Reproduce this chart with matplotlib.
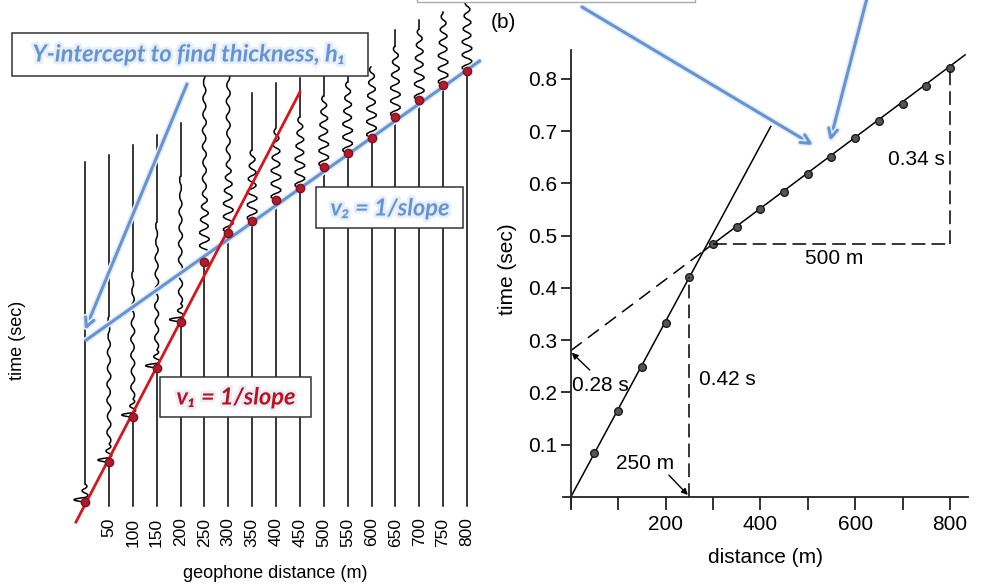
import numpy as np
import matplotlib
matplotlib.use('Agg')
from matplotlib import pyplot as plt
from matplotlib.path import Path
from matplotlib.patches import PathPatch, Rectangle, FancyArrowPatch
import matplotlib.patheffects as pe

plt.rcParams['font.family'] = ['Liberation Sans', 'DejaVu Sans']
NARROW = ['Liberation Sans Narrow', 'Liberation Sans', 'DejaVu Sans']

W, H = 993, 588

# (a) geophone record: distance (m), first-break pick (s), trace top (s)
geo_dist = [0, 50, 100, 150, 200, 250, 300, 350, 400, 450, 500, 550, 600, 650, 700, 750, 800]
geo_pick = [0.000, 0.075, 0.160, 0.253, 0.340, 0.453, 0.508, 0.530, 0.570, 0.592,
            0.632, 0.658, 0.687, 0.726, 0.758, 0.787, 0.813]
geo_top = [0.642, 0.655, 0.674, 0.692, 0.715, 0.730, 0.747, 0.772, 0.791, 0.800,
           0.804, 0.804, 0.804, 0.891, 0.909, 0.925, 0.960]
# fitted lines on the record: intercept (s), slope (s/m), x range (m)
v1_fit = (-0.005, 0.00173, -19, 450)
v2_fit = (0.304, 0.000639, 0, 829)

# (b) travel-time plot
direct_x = [50, 100, 150, 200, 250]
direct_t = [0.084, 0.165, 0.249, 0.333, 0.420]
refr_x = [300, 350, 400, 450, 500, 550, 600, 650, 700, 750, 800]
refr_t = [0.484, 0.517, 0.551, 0.584, 0.618, 0.651, 0.686, 0.720, 0.752, 0.787, 0.820]
t_cross_x, t_cross_t = 250, 0.42
t_intercept = 0.28
dx_refr, dt_refr = 500, 0.34

# wavelet shapes (pixel amplitudes of successive half cycles)
wave_px = [-5, 5, -5, 5, -5, 4, -4, 4, -3, 3, -2]
spike_px = [-11, 3, -3, 2]
coda_px = [2, -2, 2, -1.5, 2, -2, 1.5, -2, 2, -1.5, 1.5, -1.5, 1.5, -1, 1, -1]

blue = '#6594d2'
red = '#d8141c'

fig = plt.figure(figsize=(W / 100, H / 100), dpi=100)


def fig_rect(x0, y0, x1, y1):
    return [x0 / W, (H - y1) / H, (x1 - x0) / W, (y1 - y0) / H]


# ---- left panel: record section ----
LX0, LSX, LT0, LST = 85.0, 0.4775, 502.0, 530.0
axL = fig.add_axes(fig_rect(60, 0, 490, 512))
axL.set_xlim((60 - LX0) / LSX, (490 - LX0) / LSX)
axL.set_ylim((LT0 - 512) / LST, LT0 / LST)


def wiggle(ax, x0, t0, amps, half_px):
    verts = [(x0, t0)]
    codes = [Path.MOVETO]
    h = half_px / LST
    t = t0
    for a in amps:
        verts += [(x0 + 2 * a / LSX, t + h / 2), (x0, t + h)]
        codes += [Path.CURVE3, Path.CURVE3]
        t += h
    ax.add_patch(PathPatch(Path(verts, codes), fill=False, lw=1.1, ec='k'))
    return t


bottom_t = (LT0 - 506) / LST
for d, tp, top in zip(geo_dist, geo_pick, geo_top):
    axL.plot([d, d], [bottom_t, tp], color='k', lw=1.1)
    if d <= 200:
        t_end = wiggle(axL, d, tp, spike_px, 4.5)
    else:
        t_end = wiggle(axL, d, tp, wave_px, 6.5)
    if 0 < d <= 300:
        t_end = wiggle(axL, d, t_end, coda_px, 8.0)
    if t_end < top:
        axL.plot([d, d], [t_end, top], color='k', lw=1.1)

b0, b1, bx0, bx1 = v2_fit
axL.plot([bx0, bx1], [b0 + b1 * bx0, b0 + b1 * bx1], color=blue, lw=2.2,
         solid_capstyle='butt', clip_on=False,
         path_effects=[pe.withStroke(linewidth=4.5, foreground='#e3ecf8')])
r0, r1, rx0, rx1 = v1_fit
axL.plot([rx0, rx1], [r0 + r1 * rx0, r0 + r1 * rx1], color=red, lw=2.0, clip_on=False)
axL.plot(geo_dist, geo_pick, 'o', ms=6, color='#b01c2c', mec='#80101c', clip_on=False)

for s in axL.spines.values():
    s.set_visible(False)
axL.set_yticks([])
axL.set_xticks(geo_dist[1:])
axL.set_xticklabels([str(d) for d in geo_dist[1:]], rotation=90, fontsize=12.5)
axL.tick_params(axis='x', length=0, pad=4)
axL.set_xlabel('geophone distance (m)', fontsize=13, labelpad=13)
axL.patch.set_visible(False)

# ---- right panel: travel-time plot ----
axR = fig.add_axes(fig_rect(562.7, 50, 968, 507))
axR.set_xlim(-17, 838)
axR.set_ylim(-0.019, 0.855)
for s in ['top', 'right']:
    axR.spines[s].set_visible(False)
axR.spines['left'].set_position(('data', 0))
axR.spines['bottom'].set_position(('data', 0))
for s in ['left', 'bottom']:
    axR.spines[s].set_linewidth(1.3)
    axR.spines[s].set_color('#222222')

slope1 = t_cross_t / t_cross_x
slope2 = dt_refr / dx_refr
x_cr = t_intercept / (slope1 - slope2)
xs = np.array([0, 422])
axR.plot(xs, slope1 * xs, color='k', lw=1.1)
xs = np.array([x_cr, 832])
axR.plot(xs, t_intercept + slope2 * xs, color='k', lw=1.1)
xs = np.array([0, x_cr])
axR.plot(xs, t_intercept + slope2 * xs, color='k', lw=1.1, dashes=(9, 5))
axR.plot(direct_x + refr_x, direct_t + refr_t, 'o', ms=5.5, color='#555555', mec='#1a1a1a', mew=1)

axR.plot([refr_x[0], refr_x[-1]], [refr_t[0], refr_t[0]], color='k', lw=1.1, dashes=(9, 4))
axR.plot([refr_x[-1], refr_x[-1]], [refr_t[0], refr_t[-1]], color='k', lw=1.1, dashes=(9, 4))
axR.plot([t_cross_x, t_cross_x], [0, t_cross_t], color='k', lw=1.1, dashes=(9, 4))

axR.set_yticks([0.1, 0.2, 0.3, 0.4, 0.5, 0.6, 0.7, 0.8])
axR.set_xticks(range(0, 801, 100))
axR.set_xticklabels(['' if v % 200 else ('' if v == 0 else str(v)) for v in range(0, 801, 100)])
axR.tick_params(axis='both', labelsize=15, width=1.3, color='#222222')
axR.tick_params(axis='y', length=7, pad=3)
axR.tick_params(axis='x', length=9, pad=4)
for lbl in axR.get_xticklabels() + axR.get_yticklabels():
    lbl.set_family(NARROW)
axR.set_xlabel('distance (m)', fontsize=15, labelpad=10, family=NARROW)
axR.set_ylabel('time (sec)', fontsize=15, family=NARROW)
axR.yaxis.set_label_coords(-0.113, 0.52)
axR.patch.set_visible(False)

note = dict(fontsize=15, family=NARROW, va='center')
axR.text(729, 0.645, '0.34 s', ha='center', **note)
axR.text(555, 0.457, '500 m', ha='center', **note)
axR.text(271, 0.224, '0.42 s', ha='left', **note)
axR.text(62, 0.214, '0.28 s', ha='center', **note)
axR.text(157, 0.064, '250 m', ha='center', **note)
axR.annotate('', xy=(2, t_intercept - 0.004), xytext=(40, 0.243),
             arrowprops=dict(arrowstyle='-|>', color='k', lw=1.0, mutation_scale=9, shrinkA=0, shrinkB=0))
axR.annotate('', xy=(t_cross_x - 3, 0.004), xytext=(207, 0.042),
             arrowprops=dict(arrowstyle='-|>', color='k', lw=1.0, mutation_scale=9, shrinkA=0, shrinkB=0))

# ---- overlay: boxes, labels and callout arrows (pixel coordinates) ----
axO = fig.add_axes([0, 0, 1, 1], zorder=5)
axO.set_xlim(0, W)
axO.set_ylim(H, 0)
axO.axis('off')

glow = [pe.withStroke(linewidth=4, foreground='#e6eef9')]
callout = dict(fontsize=17, fontweight='bold', style='italic', family=['Lato', 'DejaVu Sans'],
               ha='center', va='center', path_effects=glow)

axO.add_patch(Rectangle((12, 33), 356, 43, fc='white', ec='#333333', lw=1.1))
axO.text(189, 54, 'Y-intercept to find thickness, h\u2081', color=blue, **callout)
axO.add_patch(Rectangle((316, 187), 147, 41, fc='white', ec='#333333', lw=1.1))
axO.text(390, 208, 'v\u2082 = 1/slope', color=blue, **callout)
axO.add_patch(Rectangle((160, 377), 151, 40, fc='white', ec='#333333', lw=1.1))
axO.text(236, 397, 'v\u2081 = 1/slope', color='#c0101a', **callout)
axO.add_patch(Rectangle((417, -40), 278, 41.5, fc='white', ec='#aaaaaa', lw=1.0))

for (x0, y0), (x1, y1) in [((187, 84), (85, 330)), ((582, 7), (813, 145)), ((867, -2), (830, 141))]:
    axO.add_patch(FancyArrowPatch((x0, y0), (x1, y1), arrowstyle='->', mutation_scale=16,
                                  color=blue, lw=2.2, shrinkA=0, shrinkB=0,
                                  path_effects=[pe.withStroke(linewidth=4.5, foreground='#e3ecf8')]))

axO.text(17, 340, 'time (sec)', fontsize=13, rotation=90, ha='center', va='center')
axO.text(503, 22, '(b)', fontsize=15, ha='center', va='center')

fig.savefig('out.png', dpi=100, facecolor='white')
